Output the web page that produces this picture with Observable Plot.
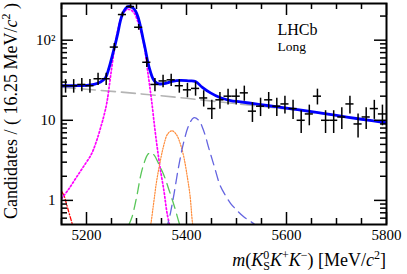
<!DOCTYPE html>
<html><head><meta charset="utf-8">
<script src="https://cdn.jsdelivr.net/npm/d3@7"></script>
<script src="https://cdn.jsdelivr.net/npm/@observablehq/plot@0.6"></script>
<style>html,body{margin:0;padding:0;background:#fff}svg{display:block}</style>
</head><body><div id="chart"></div>
<script>
// ---- data ----
const massLow = 5150, massHigh = 5800, binWidth = 16.25;
const counts = [27,27,28,27,33,33,82,209,263,145,53,28,31,32,27,24,25,19,14,18,20,20,22,13,15,18,15,16,14,10,12,20,10,10,11,16,9,11,14,12];
const xMajor = [5200, 5400, 5600, 5800];
const xMinor = [5150, 5250, 5300, 5350, 5450, 5500, 5550, 5650, 5700, 5750];
const yMajor = [1, 10, 100];
const yMinor = [0.6,0.7,0.8,0.9,2,3,4,5,6,7,8,9,20,30,40,50,60,70,80,90,200];
const yTickText = ["1", "10", "10²"];

const totalFit = [[5150,27],[5175,27],[5200,27.2],[5215,28],[5228,30],[5238,34],[5245,45],[5251,62],[5258,92],[5263,125],[5268,177],[5273,220],[5278,248],[5283,262],[5288,262],[5293,252],[5298,232],[5303,195],[5308,148],[5313,105],[5318,75],[5323,52],[5328,40],[5333,33],[5338,30],[5345,28.5],[5355,28.6],[5371,30.5],[5388,31.5],[5405,31],[5418,30.5],[5431,26],[5448,22],[5468,19.1],[5488,17.6],[5508,17],[5535,16.1],[5561,15.3],[5600,14.2],[5650,12.8],[5700,11.5],[5750,10.3],[5800,9.3]];
const combinatorial = [[5150,25.8],[5200,24.4],[5300,21.6],[5400,18.8],[5500,16.1],[5600,13.8],[5700,11.4],[5800,9.3]];
const signal = [[5150,1.05],[5165,1.4],[5180,1.95],[5195,2.7],[5210,3.8],[5220,5.5],[5228,8],[5235,11.5],[5241,17],[5248,35],[5255,72],[5261,120],[5268,180],[5275,225],[5282,242],[5289,238],[5296,215],[5302,175],[5308,132],[5315,88],[5321,47],[5326,28],[5331,16],[5336,8.5],[5341,4.8],[5347,2.6],[5355,1.3],[5361,0.7],[5370,0.38]];
const redComp = [[5150,1.3],[5155,1.15],[5160,0.9],[5165,0.7],[5171,0.52],[5175,0.42]];
const greenComp = [[5285,0.5],[5291,0.62],[5301,1.16],[5308,2.0],[5315,2.9],[5322,3.7],[5328,3.95],[5335,3.7],[5345,2.8],[5355,2.05],[5365,1.35],[5375,0.87],[5385,0.53],[5390,0.42]];
const orangeComp = [[5326,0.4],[5329,0.52],[5335,1.0],[5340,1.7],[5348,3.2],[5355,5.0],[5362,6.7],[5371,7.4],[5380,6.6],[5388,5.0],[5395,3.4],[5402,1.9],[5407,1.16],[5412,0.52],[5415,0.4]];
const purpleComp = [[5360,0.42],[5363,0.52],[5368,0.7],[5375,1.2],[5385,2.8],[5395,5.5],[5405,8.8],[5415,10.8],[5425,9.9],[5435,7.2],[5445,4.4],[5456,2.6],[5467,1.55],[5478,1.15],[5488,0.92],[5500,0.76],[5515,0.62],[5533,0.52],[5545,0.45]];

// ---- build table ----
const bins = counts.map((n, i) => ({
  m: massLow + binWidth * (i + 0.5),
  lo: massLow + binWidth * i,
  hi: massLow + binWidth * (i + 1),
  n, eLo: n - Math.sqrt(n), eHi: n + Math.sqrt(n)
}));

const W = 407, H = 274, mL = 61, mR = 21, mT = 3, mB = 50;
const frameW = W - mL - mR, frameH = H - mT - mB;
const serif = "Liberation Serif, Times New Roman, serif";
const curve = (data, stroke, strokeWidth, dash) => Plot.line(data, {
  x: d => d[0], y: d => d[1], stroke, strokeWidth, strokeDasharray: dash,
  curve: "catmull-rom", clip: true
});
// inward ticks on all four sides: frame-spanning rules inset to leave only `len` pixels
const tickMarks = [];
for (const [vals, len] of [[xMajor, 12], [xMinor, 6]]) {
  tickMarks.push(Plot.ruleX(vals, {insetTop: frameH - len, stroke: "black", strokeWidth: 1.5}));
  tickMarks.push(Plot.ruleX(vals, {insetBottom: frameH - len, stroke: "black", strokeWidth: 1.5}));
}
for (const [vals, len] of [[yMajor, 12], [yMinor, 6]]) {
  tickMarks.push(Plot.ruleY(vals, {insetRight: frameW - len, stroke: "black", strokeWidth: 1.5}));
  tickMarks.push(Plot.ruleY(vals, {insetLeft: frameW - len, stroke: "black", strokeWidth: 1.5}));
}

const chart = Plot.plot({
  width: W, height: H,
  marginLeft: mL, marginRight: mR, marginTop: mT, marginBottom: mB,
  x: {domain: [massLow, massHigh]},
  y: {type: "log", domain: [0.5, 287]},
  style: {fontFamily: serif, fontSize: "15px", background: "white", color: "black"},
  marks: [
    curve(redComp, "#ff0000", 1.3, "4,2,1,2"),
    curve(combinatorial, "#b4b4b4", 1.6, "14,6"),
    curve(signal, "#ff00ff", 1.7, "1.6,2.2"),
    curve(greenComp, "#59c659", 1.3, "10,6"),
    curve(orangeComp, "#ff8c3a", 1.2, "1.4,1.4"),
    curve(purpleComp, "#6464e0", 1.3, "10,6"),
    curve(totalFit, "#0000ff", 2.8, null),
    Plot.ruleX(bins, {x: "m", y1: "eLo", y2: "eHi", stroke: "black", strokeWidth: 1.5, clip: true}),
    Plot.ruleY(bins, {y: "n", x1: "lo", x2: "hi", stroke: "black", strokeWidth: 1.5, clip: true}),
    ...tickMarks,
    Plot.frame({stroke: "black", strokeWidth: 2}),
    Plot.axisX({ticks: xMajor, tickSize: 0, tickPadding: 5, tickFormat: d => String(d), fontSize: 15, label: null}),
    Plot.axisY({ticks: yMajor, tickSize: 0, tickPadding: 6, tickFormat: d => yTickText[yMajor.indexOf(d)], fontSize: 15, label: null}),
    Plot.text(["LHCb"], {frameAnchor: "top-left", dx: 216, dy: 20, fontSize: 16, textAnchor: "start", lineAnchor: "top"}),
    Plot.text(["Long"], {frameAnchor: "top-left", dx: 216, dy: 37.5, fontSize: 13.5, textAnchor: "start", lineAnchor: "top"})
  ]
});
document.getElementById("chart").appendChild(chart);

// ---- axis titles with sub/superscripts ----
const svg = d3.select(chart);
const fs = 18, ss = 12;
const xt = svg.append("text").attr("x", 386).attr("y", 266).attr("text-anchor", "end")
  .attr("font-family", serif).attr("font-size", fs).attr("fill", "black");
const parts = [
  {t: "m", i: 1}, {t: "("}, {t: "K", i: 1}, {t: "0", s: ss, dy: -7}, {t: "S", s: ss, dy: 11, dx: -6},
  {t: "K", i: 1, dy: -4}, {t: "+", s: ss, dy: -7}, {t: "K", i: 1, dy: 7}, {t: "\u2212", s: ss, dy: -7},
  {t: ") [MeV/", dy: 7}, {t: "c", i: 1}, {t: "2", s: ss, dy: -7}, {t: "]", dy: 7}
];
for (const p of parts) {
  const ts = xt.append("tspan").text(p.t);
  if (p.i) ts.attr("font-style", "italic");
  if (p.s) ts.attr("font-size", p.s);
  if (p.dy) ts.attr("dy", p.dy);
  if (p.dx) ts.attr("dx", p.dx);
}
const yt = svg.append("text").attr("transform", "translate(17,3) rotate(-90)").attr("text-anchor", "end")
  .attr("font-family", serif).attr("font-size", fs).attr("fill", "black");
yt.append("tspan").text("Candidates / ( 16.25 MeV/");
yt.append("tspan").attr("font-style", "italic").text("c");
yt.append("tspan").attr("font-size", ss).attr("dy", -7).text("2");
yt.append("tspan").attr("dy", 7).text(" )");
</script>
</body></html>
